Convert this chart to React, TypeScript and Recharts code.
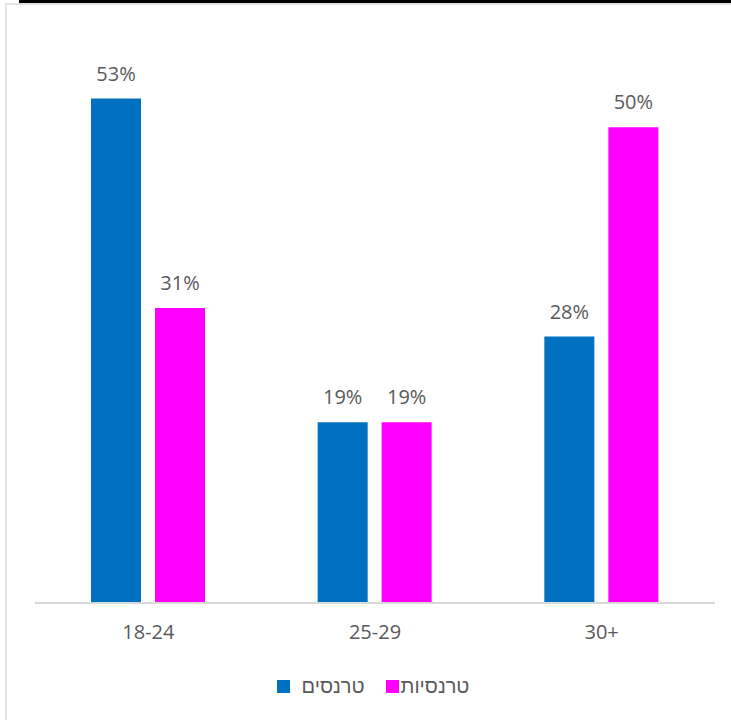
import { BarChart, Bar, XAxis, YAxis, Legend, LabelList } from 'recharts';

const ageGroups = ['18-24', '25-29', '30+'];
const transMen = [53, 19, 28];
const transWomen = [31, 19, 50];
const seriesNames = ['טרנסים', 'טרנסיות'];

const BLUE = '#0070C0';
const MAGENTA = '#FF00FF';
const TEXT = '#595959';
const FONT = '"Open Sans", "DejaVu Sans", sans-serif';
const HEB_FONT = '"Liberation Sans", "DejaVu Sans", sans-serif';

const data = ageGroups.map((g, i) => ({
  group: g,
  men: transMen[i],
  women: transWomen[i],
}));

const pct = (v: number) => `${v}%`;

function ChartLegend() {
  const item = (color: string, label: string, gap: number, lead: number) => (
    <span style={{ display: 'inline-flex', alignItems: 'center', marginLeft: lead }}>
      <span style={{ width: 13, height: 13, background: color, display: 'inline-block', marginRight: gap }} />
      <span style={{ fontSize: 20, color: TEXT, fontFamily: HEB_FONT, lineHeight: '30px' }}>{label}</span>
    </span>
  );
  return (
    <div style={{ height: 30, display: 'flex', justifyContent: 'center', alignItems: 'center', paddingRight: 4 }}>
      {item(BLUE, seriesNames[0], 12, 0)}
      {item(MAGENTA, seriesNames[1], 2, 21)}
    </div>
  );
}

export default function App() {
  return (
    <div style={{ position: 'absolute', left: 0, top: 0, width: 731, height: 720, background: '#fff' }}>
      <div style={{ position: 'absolute', left: 19, top: 0, width: 712, height: 3, background: '#000' }} />
      <div style={{ position: 'absolute', left: 5, top: 3, width: 726, height: 2, background: '#e3e3e3' }} />
      <div style={{ position: 'absolute', left: 5, top: 3, width: 2, height: 717, background: '#e3e3e3' }} />
      <BarChart
        width={731}
        height={720}
        data={data}
        margin={{ top: 32, right: 16, bottom: 19, left: 35 }}
        barSize={50}
        barGap={14}
        style={{ position: 'absolute', left: 0, top: 0 }}
      >
        <XAxis
          dataKey="group"
          height={68}
          axisLine={{ stroke: '#D9D9D9', strokeWidth: 2 }}
          tickLine={false}
          tickMargin={16}
          tick={{ fill: TEXT, fontSize: 20, fontFamily: FONT }}
        />
        <YAxis hide domain={[0, 60]} />
        <Legend verticalAlign="bottom" content={() => <ChartLegend />} />
        <Bar dataKey="men" name={seriesNames[0]} fill={BLUE} isAnimationActive={false}>
          <LabelList dataKey="men" position="top" offset={18} formatter={pct} fill={TEXT} fontSize={20} fontFamily={FONT} />
        </Bar>
        <Bar dataKey="women" name={seriesNames[1]} fill={MAGENTA} isAnimationActive={false}>
          <LabelList dataKey="women" position="top" offset={18} formatter={pct} fill={TEXT} fontSize={20} fontFamily={FONT} />
        </Bar>
      </BarChart>
    </div>
  );
}
